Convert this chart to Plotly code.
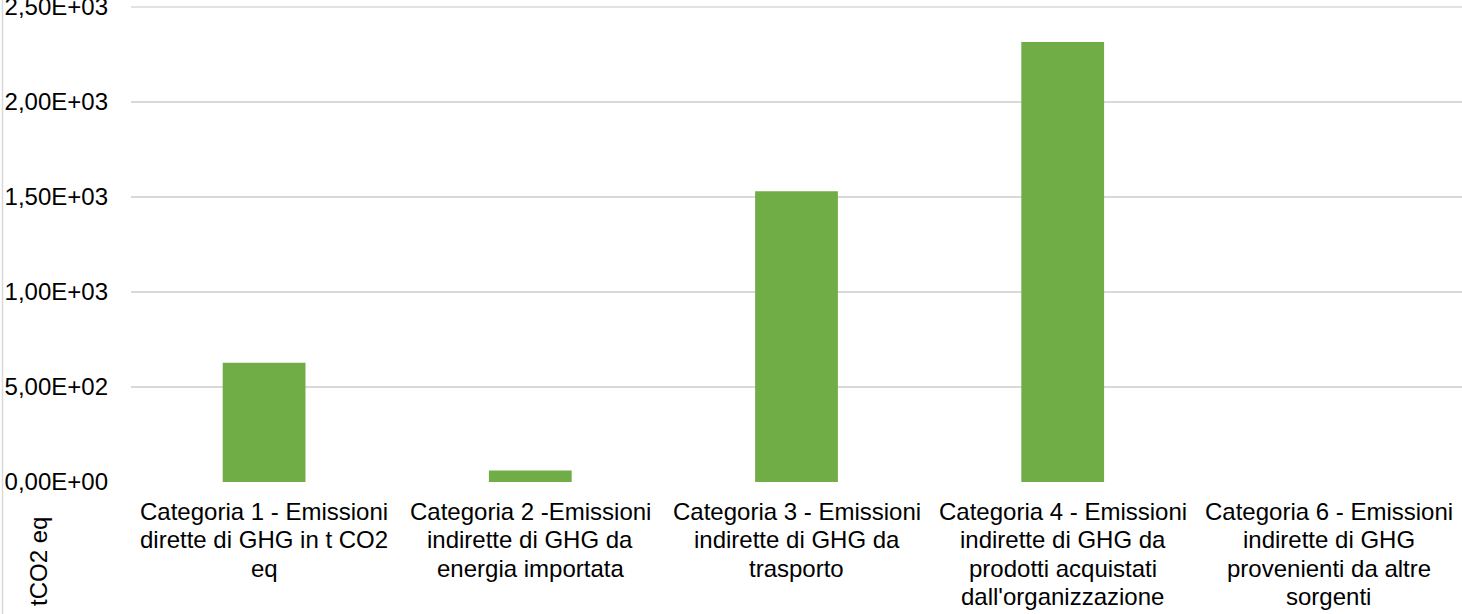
import plotly.graph_objects as go

categories = [
    "Categoria 1 - Emissioni<br>dirette di GHG in t CO2<br>eq",
    "Categoria 2 -Emissioni<br>indirette di GHG da<br>energia importata",
    "Categoria 3 - Emissioni<br>indirette di GHG da<br>trasporto",
    "Categoria 4 - Emissioni<br>indirette di GHG da<br>prodotti acquistati<br>dall'organizzazione",
    "Categoria 6 - Emissioni<br>indirette di GHG<br>provenienti da altre<br>sorgenti",
]
values = [628, 60, 1530, 2315, 0]
y_tick_vals = [0, 500, 1000, 1500, 2000, 2500]
y_tick_text = ["0,00E+00", "5,00E+02", "1,00E+03", "1,50E+03", "2,00E+03", "2,50E+03"]
y_title = "tCO2 eq"

FONT = "Liberation Sans, Arial, sans-serif"
FS = 24
GRID = "#D9D9D9"

fig = go.Figure(
    go.Bar(
        x=list(range(len(categories))),
        y=values,
        marker=dict(color="#70AD47", line=dict(width=0)),
        hoverinfo="skip",
    )
)

W, H = 1462, 614
ml, mr, mt, mb = 131, 0, 6, 132
plot_w = W - ml - mr
plot_h = H - mt - mb
axis_y = H - mb

fig.update_layout(
    width=W,
    height=H,
    margin=dict(l=ml, r=mr, t=mt, b=mb, pad=0),
    paper_bgcolor="white",
    plot_bgcolor="white",
    bargap=0.689,
    showlegend=False,
    font=dict(family=FONT, size=FS, color="#000000"),
)
fig.update_xaxes(
    tickmode="array",
    tickvals=list(range(len(categories))),
    ticktext=[""] * len(categories),
    range=[-0.5, len(categories) - 0.5],
    showgrid=False,
    showline=False,
    zeroline=False,
    ticks="",
    automargin=False,
)
fig.update_yaxes(
    tickmode="array",
    tickvals=y_tick_vals,
    ticktext=y_tick_text,
    range=[0, 2505],
    showgrid=True,
    gridcolor=GRID,
    gridwidth=1.5,
    zeroline=False,
    showline=False,
    ticks="",
    ticklabelstandoff=22,
    ticklabeloverflow="allow",
    automargin=False,
    tickfont=dict(family=FONT, size=FS, color="#000000"),
)

# top gridline (plotly skips grid lines right at the plot edge)
fig.add_shape(
    type="line",
    xref="paper",
    yref="y",
    x0=0,
    x1=1,
    y0=y_tick_vals[-1],
    y1=y_tick_vals[-1],
    line=dict(color=GRID, width=1.5),
    layer="below",
)

# category labels, one line per annotation (Excel-like line spacing)
line_gap = 28.3
first_center = 511.5
for i, label in enumerate(categories):
    for j, line in enumerate(label.split("<br>")):
        cy = first_center + j * line_gap
        fig.add_annotation(
            text=line,
            xref="x",
            yref="paper",
            x=i,
            y=-(cy - axis_y) / plot_h,
            xanchor="center",
            yanchor="middle",
            showarrow=False,
            font=dict(family=FONT, size=FS, color="#000000"),
        )

# axis title placed at lower-left
fig.add_annotation(
    text=y_title,
    xref="paper",
    yref="paper",
    x=(38 - ml) / plot_w,
    y=-(561 - axis_y) / plot_h,
    xanchor="center",
    yanchor="middle",
    textangle=-90,
    showarrow=False,
    font=dict(family=FONT, size=FS, color="#000000"),
)
# chart border at the left edge
fig.add_shape(
    type="line",
    xref="paper",
    yref="paper",
    x0=(2.5 - ml) / plot_w,
    x1=(2.5 - ml) / plot_w,
    y0=-0.5,
    y1=1.5,
    line=dict(color=GRID, width=1.5),
)

fig.write_html(
    "out.html",
    config={"displayModeBar": False},
    post_script="document.body.style.margin='0px';document.body.style.overflow='hidden';",
)
